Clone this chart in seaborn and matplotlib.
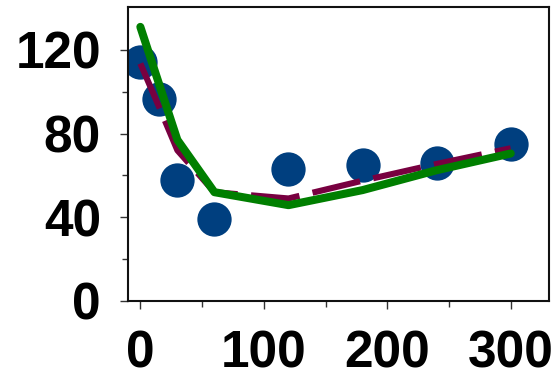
import matplotlib
matplotlib.use("Agg")
import matplotlib.pyplot as plt
from matplotlib.ticker import FixedLocator
import seaborn as sns
import pandas as pd

# Data
obs_x = [0, 15, 30, 60, 120, 180, 240, 300]
obs_y = [114, 96.5, 58, 39, 63, 65, 66, 75]

fit1_x = [0, 15, 30, 60, 120, 180, 240, 300]
fit1_y = [113.5, 93, 72, 52, 49, 57.5, 65.5, 73]

fit2_x = [0, 15, 30, 60, 120, 180, 240, 300]
fit2_y = [131, 104, 77, 52, 45.8, 53, 62.5, 70.5]

x_major = [0, 100, 200, 300]
x_minor = [50, 150, 250]
y_major = [0, 40, 80, 120]
y_minor = [20, 60, 100]

sns.set_theme(style="ticks")
plt.rcParams['font.family'] = ['Liberation Sans', 'DejaVu Sans']

fig = plt.figure(figsize=(5.59, 3.80), dpi=100)
ax = fig.add_axes([128 / 559, 1 - 301 / 380, (549 - 128) / 559, (301 - 7) / 380])

obs = pd.DataFrame({"x": obs_x, "y": obs_y})
f1 = pd.DataFrame({"x": fit1_x, "y": fit1_y})
f2 = pd.DataFrame({"x": fit2_x, "y": fit2_y})

sns.scatterplot(data=obs, x="x", y="y", ax=ax, s=610, color="#003F7F",
                linewidth=0, zorder=2)
sns.lineplot(data=f1, x="x", y="y", ax=ax, sort=False, color="#780040",
             linewidth=4.4, zorder=3)
ax.lines[-1].set_linestyle((0, (8, 2.2)))
ax.lines[-1].set_dash_capstyle("butt")
sns.lineplot(data=f2, x="x", y="y", ax=ax, sort=False, color="#007F00",
             linewidth=5.8, zorder=4)
ax.lines[-1].set_solid_capstyle("round")
ax.lines[-1].set_solid_joinstyle("round")

ax.set_xlim(-10, 331)
ax.set_ylim(0, 140.5)
ax.xaxis.set_major_locator(FixedLocator(x_major))
ax.xaxis.set_minor_locator(FixedLocator(x_minor))
ax.yaxis.set_major_locator(FixedLocator(y_major))
ax.yaxis.set_minor_locator(FixedLocator(y_minor))
ax.set_xticklabels([str(v) for v in x_major])
ax.set_yticklabels([str(v) for v in y_major])
ax.set_xlabel("")
ax.set_ylabel("")

for lab in ax.get_xticklabels() + ax.get_yticklabels():
    lab.set_fontweight("bold")
    lab.set_fontsize(37)
    lab.set_color("black")

ax.tick_params(axis="both", which="major", direction="out", length=5.5,
               width=1, color="#333333")
ax.tick_params(axis="both", which="minor", direction="out", length=4,
               width=1, color="#333333")
ax.tick_params(axis="x", which="major", pad=15)
ax.tick_params(axis="y", which="major", pad=14)

for sp in ax.spines.values():
    sp.set_visible(True)
    sp.set_linewidth(1.5)
    sp.set_color("#111111")

fig.savefig("out.png", dpi=100)
